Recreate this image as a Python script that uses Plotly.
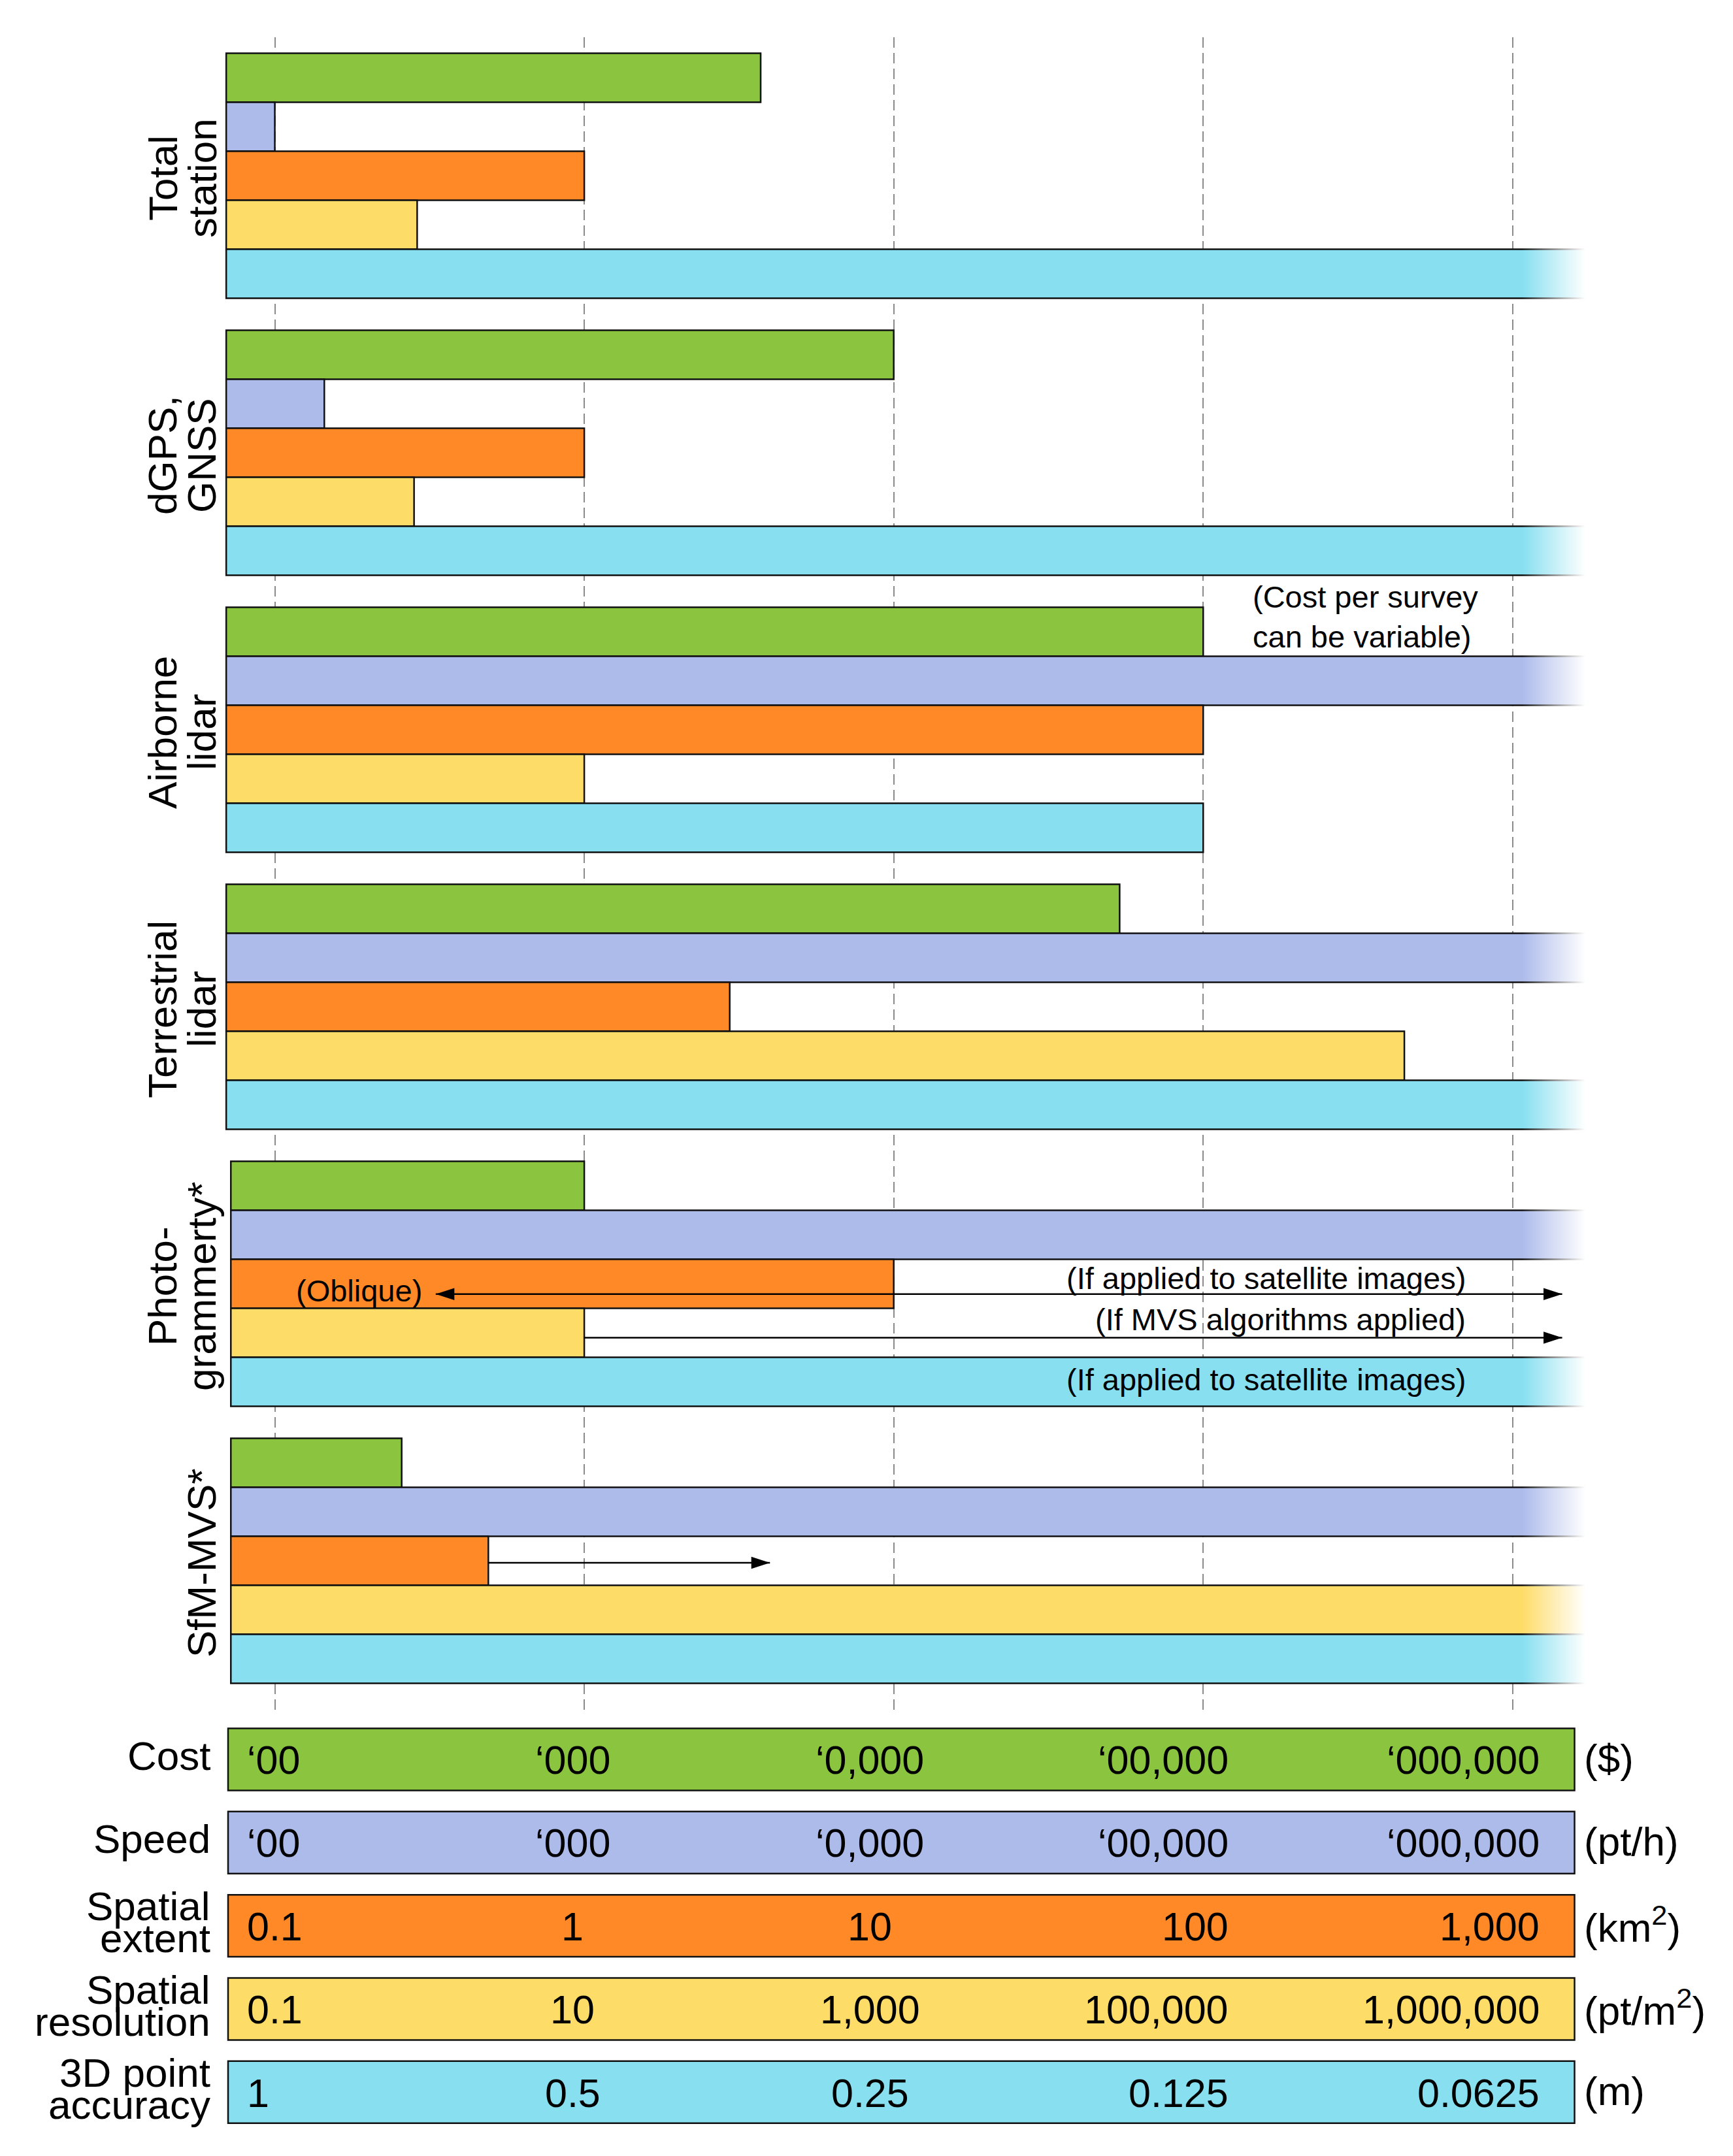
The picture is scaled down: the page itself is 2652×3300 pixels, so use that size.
import plotly.graph_objects as go

# ---------------- data ----------------
GROUP_LINES = [["Total", "station"], ["dGPS,", "GNSS"], ["Airborne", "lidar"],
               ["Terrestrial", "lidar"], ["Photo-", "grammerty*"], ["SfM-MVS*"]]
METRICS = ["Cost", "Speed", "Spatial extent", "Spatial resolution", "3D point accuracy"]

# values in "scale step" units: 1..5 = the five tick marks of each metric scale
OPEN = 5.24          # open-ended (fades out beyond the last tick)
COST = [2.57, 3.0, 4.0, 3.73, 2.0, 1.41]
SPEED = [1.0, 1.16, OPEN, OPEN, OPEN, OPEN]
EXTENT = [2.0, 2.0, 4.0, 2.47, 3.0, 1.69]
RESOLUTION = [1.46, 1.45, 2.0, 4.65, 2.0, OPEN]
ACCURACY = [OPEN, OPEN, 4.0, OPEN, OPEN, OPEN]
BAR_START = [0.843, 0.843, 0.843, 0.843, 0.858, 0.858]

SCALE_TICKS = [1, 2, 3, 4, 5]
COST_TICKS = ["\u201800", "\u2018000", "\u20180,000", "\u201800,000", "\u2018000,000"]
SPEED_TICKS = ["\u201800", "\u2018000", "\u20180,000", "\u201800,000", "\u2018000,000"]
EXTENT_TICKS = ["0.1", "1", "10", "100", "1,000"]
RESOLUTION_TICKS = ["0.1", "10", "1,000", "100,000", "1,000,000"]
ACCURACY_TICKS = ["1", "0.5", "0.25", "0.125", "0.0625"]
LEGEND_LINES = [["Cost"], ["Speed"], ["Spatial", "extent"], ["Spatial", "resolution"],
                ["3D point", "accuracy"]]
UNITS = ["($)", "(pt/h)", "(km<sup>2</sup>)", "(pt/m<sup>2</sup>)", "(m)"]
LEGEND_START, LEGEND_END = 0.849, 5.20

# range arrows: (group, metric, from, to, heads)
ARROWS = [(4, 2, 1.52, 5.16, "both"),
          (4, 3, 2.0, 5.16, "end"),
          (5, 2, 1.69, 2.60, "end")]

COLORS = ["#8BC53F", "#ADBBEB", "#FE8926", "#FEDC68", "#87DFF0"]

# ---------------- layout constants ----------------
W, H = 2652, 3300
FONT = "Liberation Sans, Arial, Helvetica, sans-serif"
X_RANGE = [0.112, 5.712]
GROUP_PITCH = 5.6533
Y_RANGE = [33.82, -0.3267]
FADE_START, FADE_STOP, FADE_COVER = 5.03, 5.235, 5.30


def px(x):
    return x / W


def py(y):
    return 1 - y / H


series = [COST, SPEED, EXTENT, RESOLUTION, ACCURACY]
fig = go.Figure()

for j, (name, vals) in enumerate(zip(METRICS, series)):
    ys = [i * GROUP_PITCH + j + 0.5 for i in range(len(vals))]
    fig.add_trace(go.Bar(
        orientation="h", name=name, y=ys,
        x=[v - b for v, b in zip(vals, BAR_START)], base=BAR_START, width=1,
        marker=dict(color=COLORS[j], line=dict(color="#111111", width=2.5)),
        xaxis="x", yaxis="y", showlegend=False, hoverinfo="skip"))

# fade-out of the open-ended bars
fig.add_trace(go.Scatter(
    x=[FADE_START, FADE_COVER, FADE_COVER, FADE_START],
    y=[Y_RANGE[1], Y_RANGE[1], Y_RANGE[0], Y_RANGE[0]],
    fill="toself", mode="none",
    fillgradient=dict(type="horizontal", start=FADE_START, stop=FADE_STOP,
                      colorscale=[[0, "rgba(255,255,255,0)"], [1, "rgba(255,255,255,1)"]]),
    xaxis="x", yaxis="y", showlegend=False, hoverinfo="skip"))

# arrows
ARROW_DY = {(4, 2): 0.21, (4, 3): 0.10, (5, 2): 0.04}
for g, m, x0, x1, heads in ARROWS:
    yy = g * GROUP_PITCH + m + 0.5 + ARROW_DY[(g, m)]
    fig.add_trace(go.Scatter(x=[x0, x1], y=[yy, yy], mode="lines",
                             line=dict(color="black", width=2.5),
                             xaxis="x", yaxis="y", showlegend=False, hoverinfo="skip"))
    hx, ang = [x1], [90]
    if heads == "both":
        hx.append(x0)
        ang.append(-90)
    fig.add_trace(go.Scatter(x=hx, y=[yy] * len(hx), mode="markers",
                             marker=dict(symbol="arrow", size=30, angle=ang, color="black",
                                         line=dict(width=0)),
                             xaxis="x", yaxis="y", showlegend=False, hoverinfo="skip"))

# legend scale bars
fig.add_trace(go.Bar(
    orientation="h", y=list(range(len(METRICS))),
    x=[LEGEND_END - LEGEND_START] * len(METRICS), base=[LEGEND_START] * len(METRICS),
    width=0.746, marker=dict(color=COLORS, line=dict(color="#111111", width=2.5)),
    xaxis="x2", yaxis="y2", showlegend=False, hoverinfo="skip"))

ann = []
# group labels (rotated)
for i, lines in enumerate(GROUP_LINES):
    cy = 81.5 + 75 * (i * GROUP_PITCH + 2.5) + 4
    xs = [249, 309] if len(lines) == 2 else [309]
    for t, x in zip(lines, xs):
        ann.append(dict(text=t, x=px(x), y=py(cy), xref="paper", yref="paper",
                        xanchor="center", yanchor="middle", textangle=-90,
                        showarrow=False, font=dict(size=62, family=FONT, color="black")))

# legend labels, tick labels, units
TICKS = [COST_TICKS, SPEED_TICKS, EXTENT_TICKS, RESOLUTION_TICKS, ACCURACY_TICKS]
COLS = [("left", 376), ("center", 876), ("center", 1331), ("right", 1882), ("right", 2358)]
for k, lines in enumerate(LEGEND_LINES):
    cy = 2693 + 127.4 * k
    offs = [-6] if len(lines) == 1 else [-30, 19]
    for t, o in zip(lines, offs):
        ann.append(dict(text=t, x=px(324), y=py(cy + o), xref="paper", yref="paper",
                        xanchor="right", yanchor="middle", showarrow=False,
                        font=dict(size=62, family=FONT, color="black")))
    for t, (anc, x) in zip(TICKS[k], COLS):
        ann.append(dict(text=t, x=px(x), y=py(cy + 1), xref="paper", yref="paper",
                        xanchor=anc, yanchor="middle", showarrow=False,
                        font=dict(size=61, family=FONT, color="black")))
    ann.append(dict(text=UNITS[k], x=px(2422), y=py(cy - 2), xref="paper", yref="paper",
                    xanchor="left", yanchor="middle", showarrow=False,
                    font=dict(size=62, family=FONT, color="black")))

# notes inside the chart
NOTE_FONT = dict(size=47, family=FONT, color="black")
ann += [
    dict(text="(Cost per survey<br>can be variable)", x=px(1915), y=py(944), xanchor="left",
         yanchor="middle", align="left"),
    dict(text="(Oblique)", x=px(549), y=py(1975), xanchor="center", yanchor="middle"),
    dict(text="(If applied to satellite images)", x=px(2245), y=py(1956), xanchor="right",
         yanchor="middle"),
    dict(text="(If MVS algorithms applied)", x=px(2245), y=py(2019), xanchor="right",
         yanchor="middle"),
    dict(text="(If applied to satellite images)", x=px(2245), y=py(2111), xanchor="right",
         yanchor="middle"),
]
for a in ann[-5:]:
    a.update(xref="paper", yref="paper", showarrow=False, font=NOTE_FONT)

fig.update_layout(
    width=W, height=H, margin=dict(l=0, r=0, t=0, b=0),
    paper_bgcolor="white", plot_bgcolor="rgba(0,0,0,0)",
    barmode="overlay", showlegend=False, annotations=ann,
    xaxis=dict(domain=[0, 1], range=X_RANGE, tickvals=SCALE_TICKS, showticklabels=False,
               showgrid=True, gridcolor="#8a8a8a", gridwidth=2, griddash="16px,8px",
               zeroline=False, showline=False, ticks="", fixedrange=True),
    yaxis=dict(domain=[py(2618), py(57)], range=Y_RANGE, showgrid=False, zeroline=False,
               showticklabels=False, showline=False, ticks="", fixedrange=True),
    xaxis2=dict(domain=[0, 1], range=X_RANGE, anchor="y2", visible=False, fixedrange=True),
    yaxis2=dict(domain=[0, py(2620)], range=[4.768, -0.5734], anchor="x2", visible=False,
                fixedrange=True),
)

fig.write_html("out.html", config={"displayModeBar": False},
               post_script="document.body.style.margin='0';document.body.style.padding='0';"
                           "document.body.style.overflow='hidden';")
